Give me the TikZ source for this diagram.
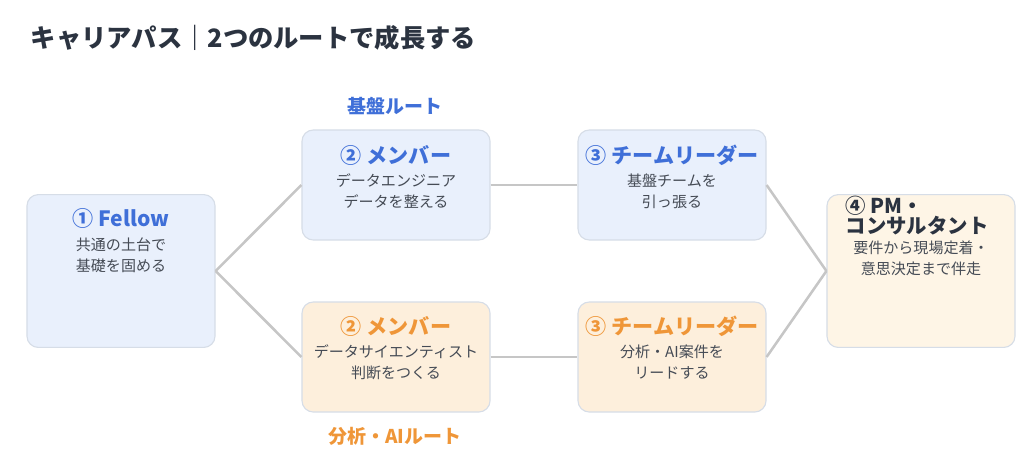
\documentclass[tikz,border=0pt]{standalone}
\usepackage{fontspec}
\setmainfont{Noto Sans CJK JP}
\definecolor{routeblue}{HTML}{3F6FD8}
\definecolor{routeorange}{HTML}{EF9638}
\definecolor{boxblue}{HTML}{E9F0FC}
\definecolor{boxorange}{HTML}{FDEFDC}
\definecolor{boxcream}{HTML}{FEF5E6}
\definecolor{boxline}{HTML}{D6DDE7}
\definecolor{bodytext}{HTML}{454B55}
\definecolor{titletext}{HTML}{2B3340}
\tikzset{
  stage/.style={draw=boxline, line width=0.8pt, rounded corners=8pt, minimum width=4.7cm},
  head/.style={font=\bfseries\fontsize{15}{17}\selectfont},
  body/.style={font=\fontsize{10.7}{15}\selectfont, text=bodytext, align=center},
  link/.style={draw=gray!45, line width=1.8pt}
}
\begin{document}
\begin{tikzpicture}[x=0.025cm, y=-0.025cm]
  \useasboundingbox (0,0) rectangle (1024,469);

  \node[anchor=west, font=\bfseries\fontsize{18}{21}\selectfont, text=titletext] (title) at (26,38) {キャリアパス｜2つのルートで成長する};

  % boxes
  \node[stage, fill=boxblue, minimum height=3.82cm] (fellow) at (121,271) {};
  \node[stage, fill=boxblue, minimum height=2.75cm] (memA) at (396,185) {};
  \node[stage, fill=boxblue, minimum height=2.75cm] (leadA) at (672,185) {};
  \node[stage, fill=boxorange, minimum height=2.75cm] (memB) at (396,357) {};
  \node[stage, fill=boxorange, minimum height=2.75cm] (leadB) at (672,357) {};
  \node[stage, fill=boxcream, minimum height=3.82cm] (pm) at (921,271) {};

  % links
  \draw[link] (fellow.east) -- (memA.west);
  \draw[link] (fellow.east) -- (memB.west);
  \draw[link] (memA.east) -- (leadA.west);
  \draw[link] (memB.east) -- (leadB.west);
  \draw[link] (leadA.east) -- (pm.west);
  \draw[link] (leadB.east) -- (pm.west);

  % texts
  \node[head, text=routeblue] (fellowT) at (121,218) {① Fellow};
  \node[body] (fellowB) at (121,255) {共通の土台で\\基礎を固める};
  \node[head, text=routeblue] (memAT) at (396,155) {② メンバー};
  \node[body] (memAB) at (396,191) {データエンジニア\\データを整える};
  \node[head, text=routeblue] (leadAT) at (672,155) {③ チームリーダー};
  \node[body] (leadAB) at (672,191) {基盤チームを\\引っ張る};
  \node[head, text=routeorange] (memBT) at (396,326) {② メンバー};
  \node[body] (memBB) at (396,362) {データサイエンティスト\\判断をつくる};
  \node[head, text=routeorange] (leadBT) at (672,326) {③ チームリーダー};
  \node[body] (leadBB) at (672,362) {分析・AI案件を\\リードする};
  \node[head, text=titletext, align=left, anchor=north west, inner sep=1pt, font=\bfseries\fontsize{14.5}{13.5}\selectfont] (pmT) at (844,194) {④ PM・\\コンサルタント};
  \node[body] (pmB) at (921,258) {要件から現場定着・\\意思決定まで伴走};

  \node[font=\bfseries\fontsize{13.5}{15}\selectfont, text=routeblue] (routeA) at (395,106) {基盤ルート};
  \node[font=\bfseries\fontsize{13.5}{15}\selectfont, text=routeorange] (routeB) at (395,436) {分析・AIルート};
\end{tikzpicture}
\end{document}
